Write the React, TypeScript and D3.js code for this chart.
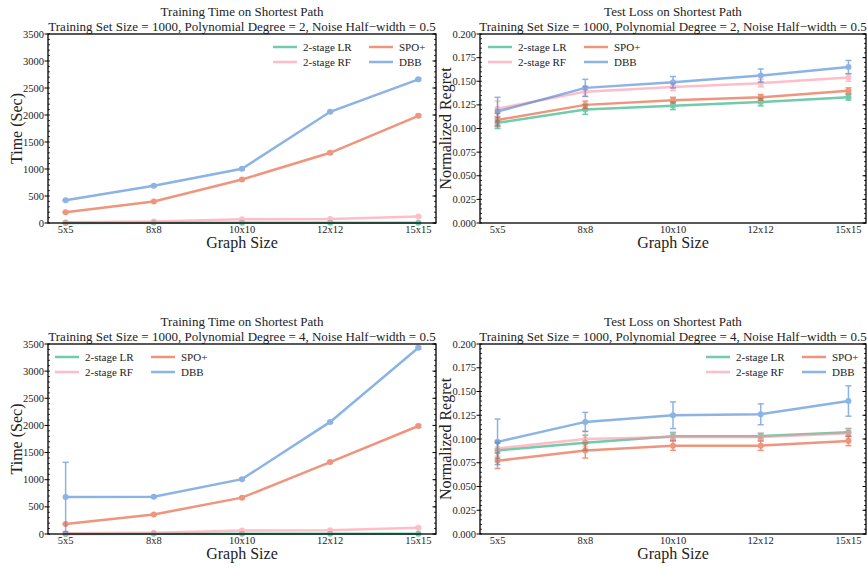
import React from 'react';
import * as d3 from 'd3';

const graphSizes = ['5x5', '8x8', '10x10', '12x12', '15x15'];
const methods = ['2-stage LR', '2-stage RF', 'SPO+', 'DBB'];
const methodColors = ['#12ab72', '#ff93a3', '#e6502a', '#3f82d5'];

// training time, polynomial degree 2
const timeDeg2LR = [2, 3, 4, 5, 6];
const timeDeg2RF = [15, 30, 70, 75, 120];
const timeDeg2SPO = [200, 400, 805, 1300, 1985];
const timeDeg2DBB = [420, 690, 1005, 2060, 2660];
const timeDeg2LRErr = [0, 0, 0, 0, 0];
const timeDeg2RFErr = [2, 3, 5, 5, 8];
const timeDeg2SPOErr = [8, 12, 15, 20, 25];
const timeDeg2DBBErr = [10, 15, 15, 20, 20];

// test loss, polynomial degree 2
const lossDeg2LR = [0.106, 0.12, 0.124, 0.128, 0.133];
const lossDeg2RF = [0.121, 0.139, 0.144, 0.148, 0.154];
const lossDeg2SPO = [0.109, 0.125, 0.13, 0.133, 0.14];
const lossDeg2DBB = [0.118, 0.143, 0.149, 0.156, 0.165];
const lossDeg2LRErr = [0.006, 0.005, 0.004, 0.004, 0.003];
const lossDeg2RFErr = [0.008, 0.005, 0.004, 0.004, 0.004];
const lossDeg2SPOErr = [0.007, 0.004, 0.003, 0.003, 0.003];
const lossDeg2DBBErr = [0.015, 0.009, 0.006, 0.007, 0.007];

// training time, polynomial degree 4
const timeDeg4LR = [2, 3, 4, 5, 6];
const timeDeg4RF = [15, 25, 65, 70, 115];
const timeDeg4SPO = [185, 360, 670, 1325, 1990];
const timeDeg4DBB = [680, 685, 1010, 2065, 3430];
const timeDeg4LRErr = [0, 0, 0, 0, 0];
const timeDeg4RFErr = [2, 3, 5, 5, 8];
const timeDeg4SPOErr = [8, 12, 15, 20, 25];
const timeDeg4DBBErr = [640, 15, 15, 20, 25];

// test loss, polynomial degree 4
const lossDeg4LR = [0.088, 0.096, 0.103, 0.103, 0.107];
const lossDeg4RF = [0.09, 0.1, 0.102, 0.102, 0.106];
const lossDeg4SPO = [0.077, 0.088, 0.093, 0.093, 0.098];
const lossDeg4DBB = [0.097, 0.118, 0.125, 0.126, 0.14];
const lossDeg4LRErr = [0.008, 0.008, 0.004, 0.003, 0.004];
const lossDeg4RFErr = [0.008, 0.008, 0.004, 0.004, 0.005];
const lossDeg4SPOErr = [0.008, 0.008, 0.005, 0.005, 0.005];
const lossDeg4DBBErr = [0.024, 0.01, 0.014, 0.011, 0.016];

const FONT = '"Liberation Serif", "DejaVu Serif", serif';

type Series = { values: number[]; errors: number[] };

function Panel({ left, right, top, bottom, titleA, titleB, yMax, yStep, yFormat, yLabel, yLabelOffset, series, legendX }: any) {
  const x = d3.scalePoint().domain(graphSizes).range([left, right]).padding(0.2);
  const y = d3.scaleLinear().domain([0, yMax]).range([bottom, top]);
  const majors = d3.range(0, yMax + yStep / 2, yStep);
  const minors = d3.range(0, yMax + yStep / 10, yStep / 5);
  const line = d3
    .line<number>()
    .x((_, i) => x(graphSizes[i]) as number)
    .y((d) => y(d));
  const cx = (left + right) / 2;
  const cy = (top + bottom) / 2;

  return (
    <g fontFamily={FONT} fill="#222">
      <text x={cx} y={top - 18} textAnchor="middle" fontSize={13}>{titleA}</text>
      <text x={cx} y={top - 3} textAnchor="middle" fontSize={13}>{titleB}</text>

      {series.map((s: Series, k: number) => (
        <g key={k} stroke={methodColors[k]} fill={methodColors[k]} opacity={0.6}>
          <path d={line(s.values) as string} fill="none" strokeWidth={2.5} />
          {s.values.map((v, i) => {
            const px = x(graphSizes[i]) as number;
            const lo = y(Math.max(0, v - s.errors[i]));
            const hi = y(v + s.errors[i]);
            return (
              <g key={i}>
                {s.errors[i] > 0 && (
                  <>
                    <line x1={px} x2={px} y1={lo} y2={hi} strokeWidth={1.5} />
                    <line x1={px - 3} x2={px + 3} y1={lo} y2={lo} strokeWidth={1.5} />
                    <line x1={px - 3} x2={px + 3} y1={hi} y2={hi} strokeWidth={1.5} />
                  </>
                )}
                <circle cx={px} cy={y(v)} r={3} stroke="none" />
              </g>
            );
          })}
        </g>
      ))}

      <rect x={left} y={top} width={right - left} height={bottom - top} fill="none" stroke="#000" strokeWidth={1.3} />
      {minors.map((t: number, i: number) => (
        <g key={i} stroke="#000" strokeWidth={0.8}>
          <line x1={left} x2={left + 2} y1={y(t)} y2={y(t)} />
          <line x1={right} x2={right - 2} y1={y(t)} y2={y(t)} />
        </g>
      ))}
      {majors.map((t: number, i: number) => (
        <g key={i}>
          <line x1={left - 3.5} x2={left} y1={y(t)} y2={y(t)} stroke="#000" strokeWidth={1} />
          <line x1={right - 3.5} x2={right} y1={y(t)} y2={y(t)} stroke="#000" strokeWidth={1} />
          <text x={left - 4} y={y(t) + 3.5} textAnchor="end" fontSize={10.5}>{yFormat(t)}</text>
        </g>
      ))}
      {graphSizes.map((g) => (
        <text key={g} x={x(g) as number} y={bottom + 10} textAnchor="middle" fontSize={10.5}>{g}</text>
      ))}

      <text x={cx} y={bottom + 25} textAnchor="middle" fontSize={16}>Graph Size</text>
      <text transform={`translate(${left - yLabelOffset},${cy}) rotate(-90)`} textAnchor="middle" fontSize={16}>{yLabel}</text>

      {methods.map((m, k) => {
        const lx = legendX + (k >= 2 ? 96 : 0);
        const ly = top + 13 + (k % 2) * 15;
        return (
          <g key={m}>
            <line x1={lx} x2={lx + 24} y1={ly} y2={ly} stroke={methodColors[k]} strokeWidth={2.5} opacity={0.6} />
            <text x={lx + 30} y={ly + 3.5} fontSize={11}>{m}</text>
          </g>
        );
      })}
    </g>
  );
}

export default function App() {
  const timeFmt = d3.format('d');
  const lossFmt = d3.format('.3f');
  const sub2 = 'Training Set Size = 1000, Polynomial Degree = 2, Noise Half\u2212width = 0.5';
  const sub4 = 'Training Set Size = 1000, Polynomial Degree = 4, Noise Half\u2212width = 0.5';
  return (
    <svg width={867} height={568} style={{ position: 'absolute', left: 0, top: 0, background: '#fff' }}>
      <Panel
        left={48} right={436} top={34} bottom={223}
        titleA="Training Time on Shortest Path" titleB={sub2}
        yMax={3500} yStep={500} yFormat={timeFmt} yLabel="Time (Sec)" yLabelOffset={26}
        legendX={273}
        series={[
          { values: timeDeg2LR, errors: timeDeg2LRErr },
          { values: timeDeg2RF, errors: timeDeg2RFErr },
          { values: timeDeg2SPO, errors: timeDeg2SPOErr },
          { values: timeDeg2DBB, errors: timeDeg2DBBErr },
        ]}
      />
      <Panel
        left={480} right={866} top={34} bottom={223}
        titleA="Test Loss on Shortest Path" titleB={sub2}
        yMax={0.2} yStep={0.025} yFormat={lossFmt} yLabel="Normalized Regret" yLabelOffset={29}
        legendX={488}
        series={[
          { values: lossDeg2LR, errors: lossDeg2LRErr },
          { values: lossDeg2RF, errors: lossDeg2RFErr },
          { values: lossDeg2SPO, errors: lossDeg2SPOErr },
          { values: lossDeg2DBB, errors: lossDeg2DBBErr },
        ]}
      />
      <Panel
        left={48} right={436} top={344} bottom={534}
        titleA="Training Time on Shortest Path" titleB={sub4}
        yMax={3500} yStep={500} yFormat={timeFmt} yLabel="Time (Sec)" yLabelOffset={26}
        legendX={55}
        series={[
          { values: timeDeg4LR, errors: timeDeg4LRErr },
          { values: timeDeg4RF, errors: timeDeg4RFErr },
          { values: timeDeg4SPO, errors: timeDeg4SPOErr },
          { values: timeDeg4DBB, errors: timeDeg4DBBErr },
        ]}
      />
      <Panel
        left={480} right={866} top={344} bottom={534}
        titleA="Test Loss on Shortest Path" titleB={sub4}
        yMax={0.2} yStep={0.025} yFormat={lossFmt} yLabel="Normalized Regret" yLabelOffset={29}
        legendX={706}
        series={[
          { values: lossDeg4LR, errors: lossDeg4LRErr },
          { values: lossDeg4RF, errors: lossDeg4RFErr },
          { values: lossDeg4SPO, errors: lossDeg4SPOErr },
          { values: lossDeg4DBB, errors: lossDeg4DBBErr },
        ]}
      />
    </svg>
  );
}
